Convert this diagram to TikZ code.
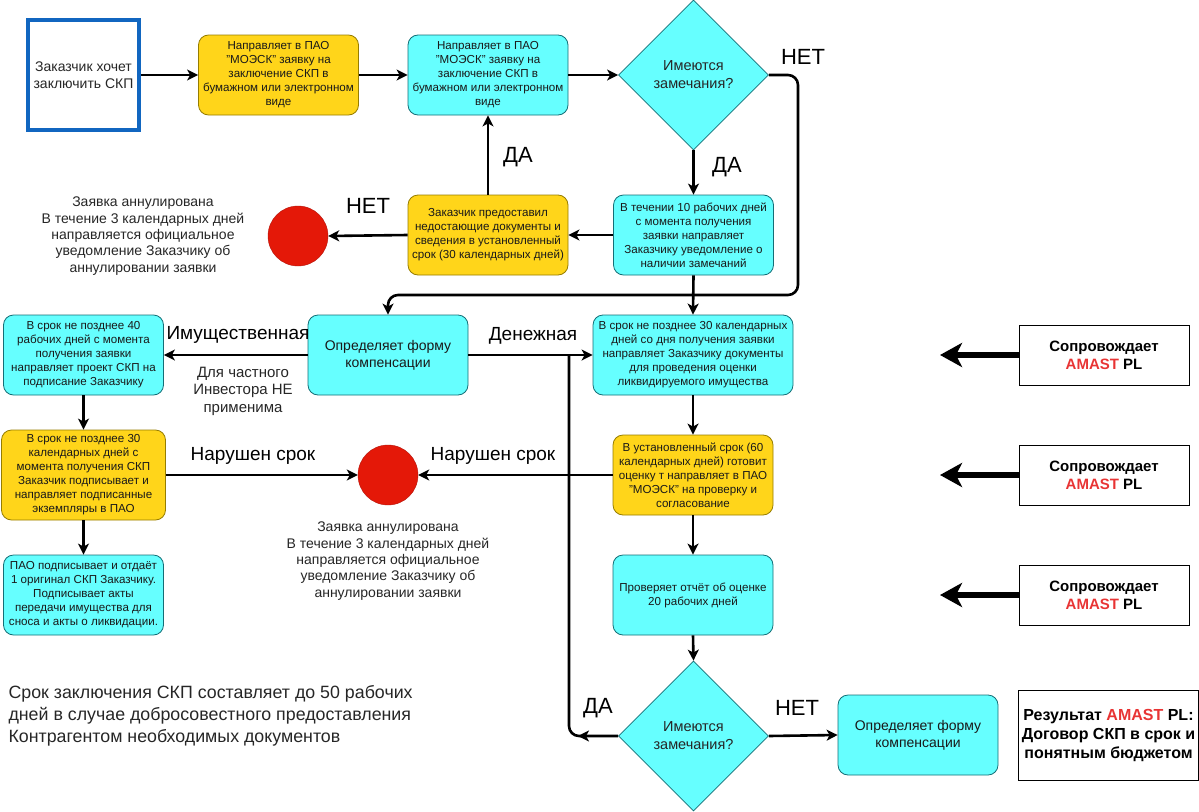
\documentclass[tikz,border=0pt]{standalone}
\usepackage{fontspec}
\setmainfont{Liberation Sans}
\usetikzlibrary{shapes.geometric,arrows.meta}
\definecolor{cyanfill}{RGB}{102,255,255}
\definecolor{cyanline}{RGB}{20,110,118}
\definecolor{yellowfill}{RGB}{255,213,26}
\definecolor{yellowline}{RGB}{150,125,0}
\definecolor{redfill}{RGB}{228,24,8}
\definecolor{redline}{RGB}{180,20,10}
\definecolor{bluebox}{RGB}{17,102,192}
\definecolor{amred}{RGB}{232,52,52}
\begin{document}
\begin{tikzpicture}[x=1pt,y=-1pt,
  box/.style={rounded corners=10pt,minimum width=160pt,minimum height=80pt,align=center,inner sep=1pt,text=black!90,font=\fontsize{11.6}{14}\selectfont,line width=0.8pt},
  cbox/.style={box,draw=cyanline,fill=cyanfill},
  ybox/.style={box,draw=yellowline,fill=yellowfill},
  ask/.style={diamond,draw=cyanline,fill=cyanfill,minimum width=150pt,minimum height=150pt,inner sep=0pt,align=center,text=black!85,font=\fontsize{14.5}{18}\selectfont,line width=0.8pt},
  stopdot/.style={circle,draw=redline,fill=redfill,minimum size=60pt,inner sep=0pt},
  amast/.style={draw,line width=0.8pt,minimum width=170pt,minimum height=60pt,align=center,font=\bfseries\fontsize{15}{18}\selectfont},
  arr/.style={line width=2.6pt,-{Stealth[length=11pt,width=11pt,inset=3pt]}},
  fat/.style={line width=6pt,-{Stealth[length=22pt,width=24pt,inset=6pt]}},
  big/.style={font=\fontsize{22}{24}\selectfont},
  mid/.style={font=\fontsize{19}{21}\selectfont},
  note/.style={align=center,text=black!85,font=\fontsize{14}{16.3}\selectfont}]
\useasboundingbox (0,0) rectangle (1199,811);

\node[draw=bluebox,line width=4.5pt,minimum width=111pt,minimum height=110pt,align=center,font=\fontsize{14}{17}\selectfont,text=black!85] (want) at (83.5,75) {Заказчик хочет\\заключить СКП};
\node[ybox] (req1) at (278.5,75) {Направляет в ПАО\\"МОЭСК" заявку на\\заключение СКП в\\бумажном или электронном\\виде};
\node[cbox] (req2) at (488,75) {Направляет в ПАО\\"МОЭСК" заявку на\\заключение СКП в\\бумажном или электронном\\виде};
\node[ask] (dia1) at (693.5,75) {Имеются\\замечания?};
\node[cbox] (notify) at (693.5,235) {В течении 10 рабочих дней\\с момента получения\\заявки направляет\\Заказчику уведомление о\\наличии замечаний};
\node[ybox] (provide) at (488,235) {Заказчик предоставил\\недостающие документы и\\сведения в установленный\\срок (30 календарных дней)};
\node[stopdot] (stop1) at (298,236) {};
\node[note] (cancel1) at (143,236) {Заявка аннулирована\\В течение 3 календарных дней\\направляется официальное\\уведомление Заказчику об\\аннулировании заявки};

\node[cbox,font=\fontsize{14}{17}\selectfont] (opred) at (388,355) {Определяет форму\\компенсации};
\node[cbox] (prop40) at (83.5,355) {В срок не позднее 40\\рабочих дней с момента\\получения заявки\\направляет проект СКП на\\подписание Заказчику};
\node[cbox,minimum width=200pt] (money30) at (693,355) {В срок не позднее 30 календарных\\дней со дня получения заявки\\направляет Заказчику документы\\для проведения оценки\\ликвидируемого имущества};
\node[ybox,minimum width=164pt,minimum height=90pt] (sign30) at (83.5,475) {В срок не позднее 30\\календарных дней с\\момента получения СКП\\Заказчик подписывает и\\направляет подписанные\\экземпляры в ПАО};
\node[stopdot] (stop2) at (388,475) {};
\node[note] (cancel2) at (388,561) {Заявка аннулирована\\В течение 3 календарных дней\\направляется официальное\\уведомление Заказчику об\\аннулировании заявки};
\node[ybox] (eval60) at (693,475) {В установленный срок (60\\календарных дней) готовит\\оценку т направляет в ПАО\\"МОЭСК" на проверку и\\согласование};
\node[cbox] (pao) at (83.5,595) {ПАО подписывает и отдаёт\\1 оригинал СКП Заказчику.\\Подписывает акты\\передачи имущества для\\сноса и акты о ликвидации.};
\node[cbox] (check) at (693,595) {Проверяет отчёт об оценке\\20 рабочих дней};
\node[ask] (dia2) at (693.5,736) {Имеются\\замечания?};
\node[cbox,font=\fontsize{14}{17}\selectfont] (opred2) at (918,735) {Определяет форму\\компенсации};
\node[draw,line width=1pt,minimum width=179pt,minimum height=90pt,align=center,font=\bfseries\fontsize{16}{19}\selectfont] (result) at (1108.5,735) {Результат \textcolor{amred}{AMAST} PL:\\Договор СКП в срок и\\понятным бюджетом};

\node[amast] (amast1) at (1104,355) {Сопровождает\\\textcolor{amred}{AMAST} PL};
\node[amast] (amast2) at (1104,475) {Сопровождает\\\textcolor{amred}{AMAST} PL};
\node[amast] (amast3) at (1104,595) {Сопровождает\\\textcolor{amred}{AMAST} PL};
\coordinate (tip1) at (940,355);
\coordinate (tip2) at (940,475);
\coordinate (tip3) at (940,595);
\draw[fat] (amast1.west) -- (tip1);
\draw[fat] (amast2.west) -- (tip2);
\draw[fat] (amast3.west) -- (tip3);

\draw[arr] (want.east) -- (req1.west);
\draw[arr] (req1.east) -- (req2.west);
\draw[arr] (req2.east) -- (dia1.west);
\draw[arr] (dia1.south) -- (notify.north);
\coordinate (bend1) at (798,295);
\draw[arr,rounded corners=10pt] (dia1.east) -| (bend1) -| (opred.north);
\draw[arr] (notify.west) -- (provide.east);
\draw[arr] (provide.north) -- (req2.south);
\draw[arr] (provide.west) -- (stop1.east);
\draw[arr] (notify.south) -- (money30.north);
\draw[arr] (opred.west) -- (prop40.east);
\draw[arr] (opred.east) -- (money30.west);
\draw[arr] (prop40.south) -- (sign30.north);
\draw[arr] (sign30.south) -- (pao.north);
\draw[arr] (sign30.east) -- (stop2.west);
\draw[arr] (eval60.west) -- (stop2.east);
\draw[arr] (money30.south) -- (eval60.north);
\draw[arr] (eval60.south) -- (check.north);
\draw[arr] (check.south) -- (dia2.north);
\draw[arr] (dia2.east) -- (opred2.west);
\coordinate (jn) at (569,355);
\coordinate (yes2) at (578,736);
\draw[line width=2.6pt,rounded corners=10pt] (jn) |- (dia2.west);
\draw[arr] (dia2.west) -- (yes2);

\path (803,57) node[big] (no1) {НЕТ};
\path (727,167) node[big] (yes1) {ДА};
\path (518,157) node[big] (yes3) {ДА};
\path (368,206) node[big] (no3) {НЕТ};
\path (598,708) node[big] (yes4) {ДА};
\path (797,708) node[big] (no4) {НЕТ};
\path (238,335) node[mid] (prop) {Имущественная};
\path (533,336) node[mid] (cash) {Денежная};
\path (253,456) node[mid] (late1) {Нарушен срок};
\path (493,456) node[mid] (late2) {Нарушен срок};
\path (243,391) node[align=center,text=black!85,font=\fontsize{15}{17.5}\selectfont] (priv) {Для частного\\Инвестора НЕ\\применима};
\path (5,716) node[anchor=west,align=left,text=black!85,font=\fontsize{17.8}{22}\selectfont] (term) {Срок заключения СКП составляет до 50 рабочих\\дней в случае добросовестного предоставления\\Контрагентом необходимых документов};
\end{tikzpicture}
\end{document}
